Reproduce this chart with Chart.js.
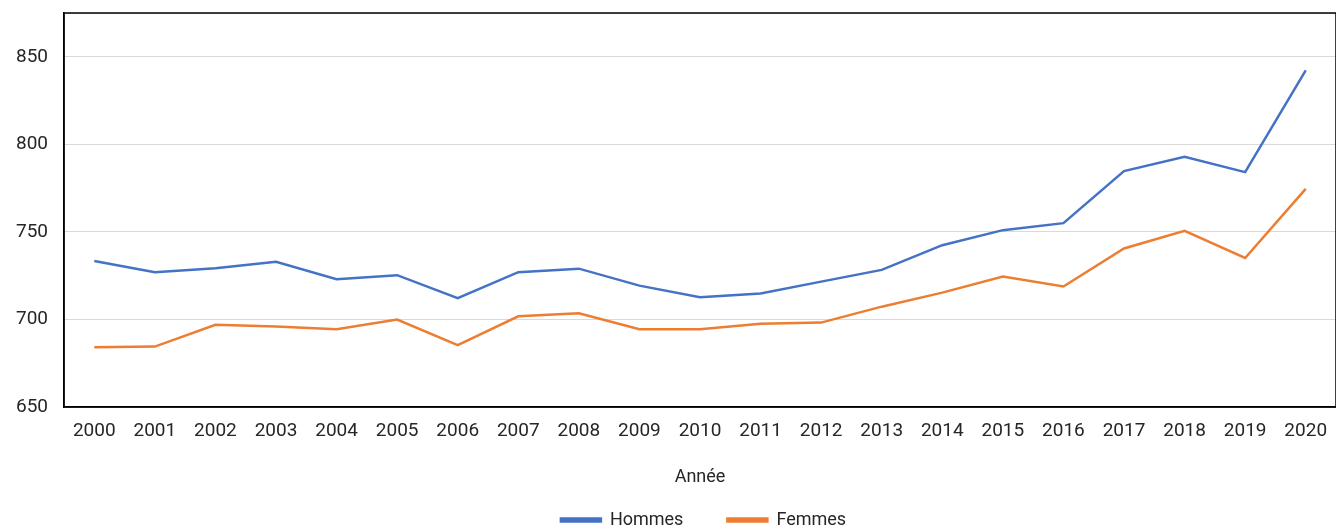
<!DOCTYPE html>
<html>
<head>
<meta charset="utf-8">
<script src="https://cdn.jsdelivr.net/npm/chart.js@4.4.1/dist/chart.umd.min.js"></script>
<style>
  html, body { margin: 0; padding: 0; background: #ffffff; }
  #wrap { width: 1336px; height: 529px; position: relative; }
</style>
</head>
<body>
<div id="wrap"><canvas id="c" width="1336" height="529"></canvas></div>
<script>
const years = ['2000','2001','2002','2003','2004','2005','2006','2007','2008','2009','2010','2011','2012','2013','2014','2015','2016','2017','2018','2019','2020'];
const hommes = [733.4, 727.0, 729.2, 732.9, 723.0, 725.3, 712.1, 727.0, 729.0, 719.3, 712.7, 714.8, 721.6, 728.3, 742.4, 751.0, 755.0, 784.7, 792.9, 784.1, 842.2];
const femmes = [684.1, 684.5, 696.9, 695.9, 694.4, 699.9, 685.3, 701.8, 703.5, 694.4, 694.4, 697.6, 698.2, 707.3, 715.3, 724.5, 718.8, 740.5, 750.6, 735.1, 774.6];
const yTicks = [650, 700, 750, 800, 850];
const seriesNames = ['Hommes', 'Femmes'];
const xTitle = 'Année';

const FONT = "Roboto, 'Noto Sans', sans-serif";
const TXT = '#262626';

const framePlugin = {
  id: 'frame',
  beforeDatasetsDraw(chart) {
    const a = chart.chartArea, ctx = chart.ctx;
    ctx.save();
    ctx.strokeStyle = '#000000';
    ctx.lineWidth = 1.5;
    ctx.strokeRect(a.left, a.top, a.right - a.left, a.bottom - a.top);
    ctx.restore();
  },
  afterLayout(chart) {
    const l = chart.legend;
    if (!l) return;
    l.top = 467; l.bottom = 540; l.left = 35.5; l.right = 1371.5;
  }
};

new Chart(document.getElementById('c'), {
  type: 'line',
  data: {
    labels: years,
    datasets: [
      { label: seriesNames[0], data: hommes, borderColor: '#4472C4', backgroundColor: '#4472C4', borderWidth: 2.5, pointRadius: 0, tension: 0 },
      { label: seriesNames[1], data: femmes, borderColor: '#ED7D31', backgroundColor: '#ED7D31', borderWidth: 2.5, pointRadius: 0, tension: 0 }
    ]
  },
  options: {
    responsive: false,
    animation: false,
    devicePixelRatio: 1,
    layout: { padding: { top: 13, left: 0, right: 0, bottom: 0 } },
    plugins: {
      tooltip: { enabled: false },
      legend: {
        position: 'bottom',
        fullSize: true,
        maxHeight: 37.2,
        labels: {
          boxWidth: 40,
          boxHeight: 3,
          padding: 44,
          color: TXT,
          font: { family: FONT, size: 18 }
        }
      }
    },
    scales: {
      x: {
        type: 'category',
        offset: true,
        afterFit(scale) { scale.height = 84.8; scale.paddingLeft = 0; scale.paddingRight = 0; },
        grid: { display: false, drawTicks: false },
        border: { display: true, color: '#000000', width: 1.5 },
        ticks: { color: TXT, font: { family: FONT, size: 19 }, padding: 13, maxRotation: 0, autoSkip: false },
        title: { display: true, text: xTitle, color: TXT, font: { family: FONT, size: 18 }, padding: { top: 23.4, bottom: 4 } }
      },
      y: {
        min: 650,
        max: 875,
        afterFit(scale) { scale.width = 64; scale.paddingTop = 0; scale.paddingBottom = 0; },
        afterBuildTicks(scale) { scale.ticks = yTicks.map(v => ({ value: v })).concat([{ value: 875 }]); },
        grid: { color: '#D9D9D9', lineWidth: 1, drawTicks: false },
        border: { display: true, color: '#000000', width: 1.5 },
        ticks: {
          color: TXT,
          font: { family: FONT, size: 19 },
          padding: 16,
          callback: (v) => (yTicks.includes(v) ? String(v) : '')
        }
      }
    }
  },
  plugins: [framePlugin]
});
</script>
</body>
</html>
